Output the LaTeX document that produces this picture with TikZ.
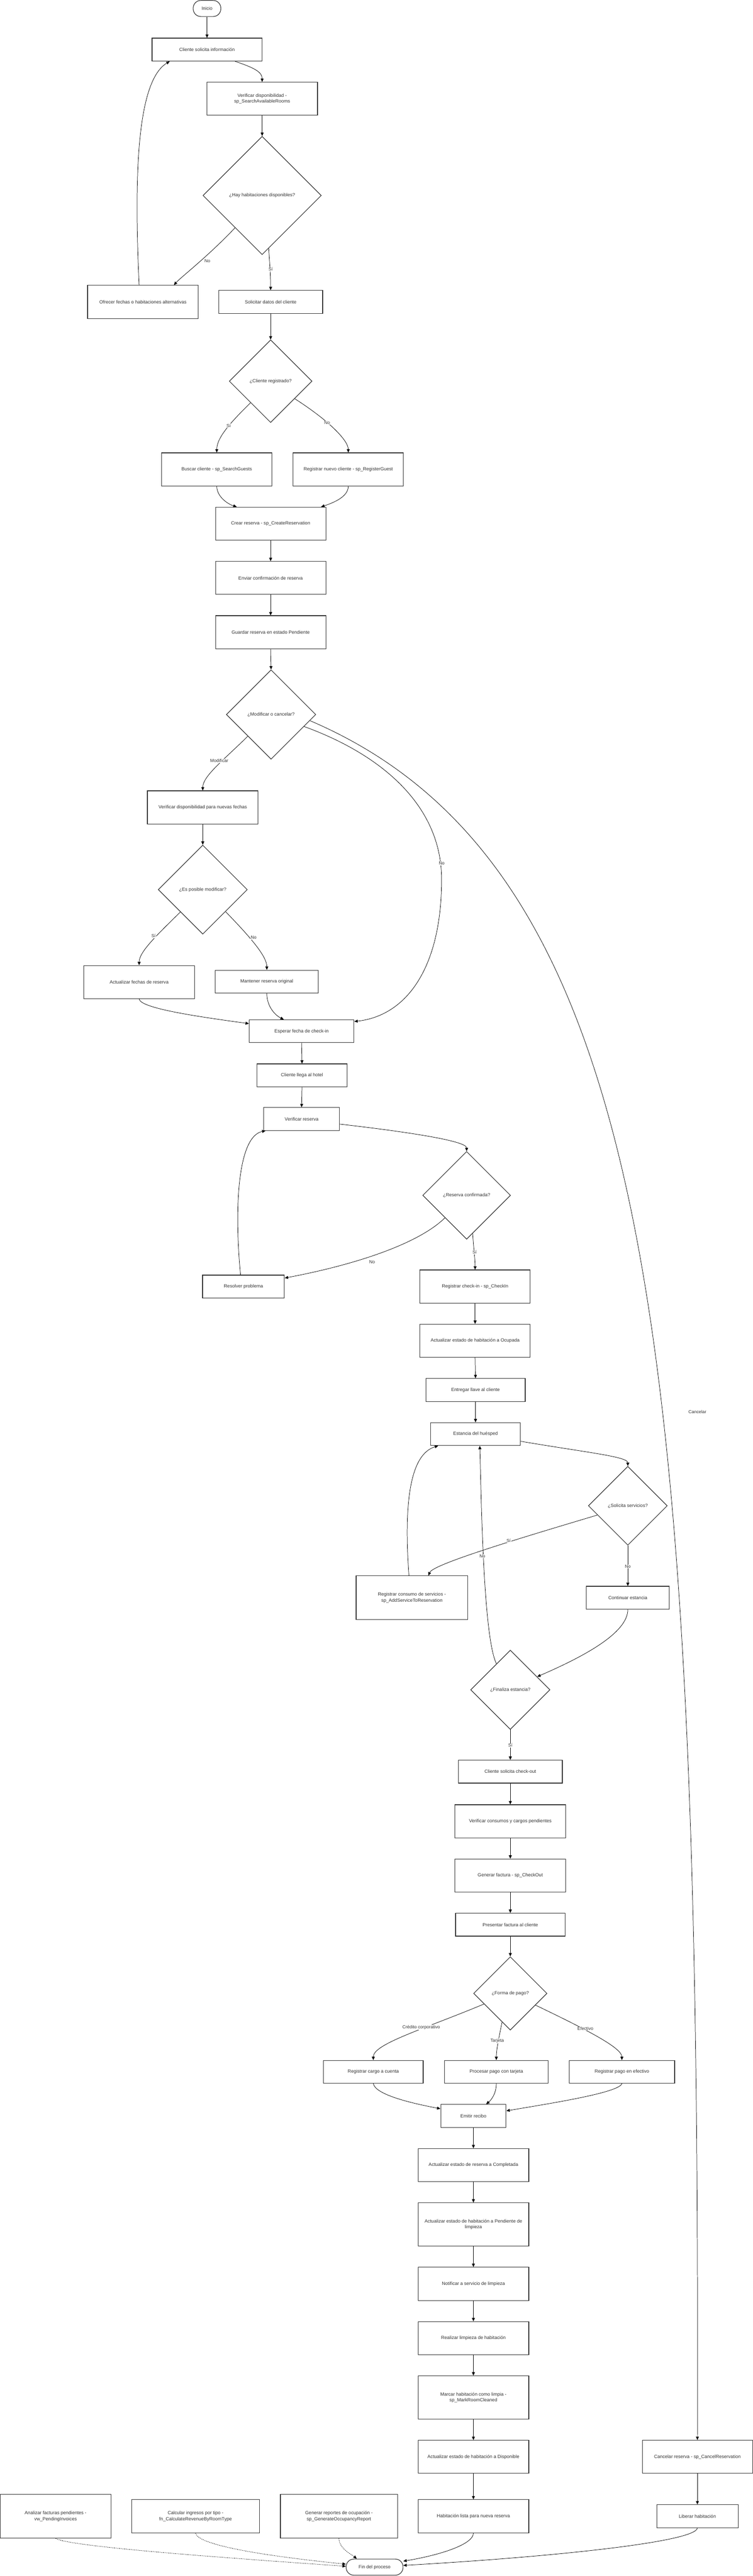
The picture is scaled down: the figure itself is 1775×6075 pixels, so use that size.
\documentclass[tikz,border=0pt]{standalone}
\usepackage{fontspec}
\setmainfont{Liberation Sans}
\usetikzlibrary{shapes.geometric,arrows.meta}
\definecolor{txt}{HTML}{333333}
\definecolor{brd}{HTML}{333333}
\begin{document}
\begin{tikzpicture}[x=1pt,y=-1pt,
  box/.style 2 args={draw=brd, line width=1.4pt, fill=white, rectangle, minimum width=#1, minimum height=#2, inner sep=0pt, align=center, text=txt, font=\fontsize{11}{14}\selectfont},
  term/.style 2 args={draw=brd, line width=1.4pt, fill=white, rectangle, rounded corners=18pt, minimum width=#1, minimum height=#2, inner sep=0pt, align=center, text=txt, font=\fontsize{11}{14}\selectfont},
  dec/.style={draw=brd, line width=1.4pt, fill=white, diamond, shape aspect=1, minimum width=#1, minimum height=#1, inner sep=0pt, align=center, text=txt, font=\fontsize{11}{14}\selectfont},
  conn/.style={draw=black, line width=0.9pt, -{Triangle[length=8pt,width=7pt]}},
  dotconn/.style={conn, dash pattern=on 2pt off 2pt},
  lbl/.style={fill=white, inner sep=1pt, text=txt, font=\fontsize{10.5}{12}\selectfont}
]
\useasboundingbox (0,0) rectangle (1775,6075);

% ---------- nodes ----------
\node[term={65pt}{38pt}] (inicio) at (488,20) {Inicio};
\node[box={259pt}{54pt}] (c1) at (488,117) {Cliente solicita información};
\node[box={261pt}{78pt}] (c2) at (618,233) {Verificar disponibilidad -\\sp\_SearchAvailableRooms};
\node[dec=279pt] (d1) at (618,461) {¿Hay habitaciones disponibles?};
\node[box={261pt}{78pt}] (c3) at (337,712) {Ofrecer fechas o habitaciones alternativas};
\node[box={245pt}{54pt}] (c4) at (638,712) {Solicitar datos del cliente};
\node[dec=195pt] (d2) at (638,899) {¿Cliente registrado?};
\node[box={260pt}{78pt}] (c5) at (511,1107) {Buscar cliente - sp\_SearchGuests};
\node[box={260pt}{78pt}] (c6) at (821,1107) {Registrar nuevo cliente - sp\_RegisterGuest};
\node[box={260pt}{78pt}] (c7) at (638,1235) {Crear reserva - sp\_CreateReservation};
\node[box={260pt}{78pt}] (c8) at (638,1363) {Enviar confirmación de reserva};
\node[box={260pt}{78pt}] (c9) at (638,1491) {Guardar reserva en estado Pendiente};
\node[dec=211pt] (d3) at (639,1685) {¿Modificar o cancelar?};
\node[box={261pt}{78pt}] (c10) at (478,1904) {Verificar disponibilidad para nuevas fechas};
\node[dec=210pt] (d4) at (478,2098) {¿Es posible modificar?};
\node[box={261pt}{78pt}] (c11) at (328,2316) {Actualizar fechas de reserva};
\node[box={243pt}{54pt}] (c12) at (629,2315) {Mantener reserva original};
\node[box={247pt}{54pt}] (c13) at (711,2432) {Esperar fecha de check-in};
\node[box={212pt}{54pt}] (c14) at (712,2536) {Cliente llega al hotel};
\node[box={179pt}{54pt}] (c15) at (711,2639) {Verificar reserva};
\node[dec=207pt] (d5) at (1100,2819) {¿Reserva confirmada?};
\node[box={193pt}{54pt}] (c16) at (574,3034) {Resolver problema};
\node[box={260pt}{78pt}] (c17) at (1120,3034) {Registrar check-in - sp\_CheckIn};
\node[box={260pt}{78pt}] (c18) at (1120,3162) {Actualizar estado de habitación a Ocupada};
\node[box={234pt}{54pt}] (c19) at (1121,3278) {Entregar llave al cliente};
\node[box={212pt}{54pt}] (c20) at (1121,3382) {Estancia del huésped};
\node[dec=186pt] (d6) at (1480,3551) {¿Solicita servicios?};
\node[box={263pt}{103pt}] (c21) at (971,3768) {Registrar consumo de servicios -\\sp\_AddServiceToReservation};
\node[box={195pt}{54pt}] (c22) at (1480,3768) {Continuar estancia};
\node[dec=187pt] (d7) at (1203,3985) {¿Finaliza estancia?};
\node[box={245pt}{54pt}] (c23) at (1203,4178) {Cliente solicita check-out};
\node[box={261pt}{78pt}] (c24) at (1203,4295) {Verificar consumos y cargos pendientes};
\node[box={261pt}{78pt}] (c25) at (1203,4423) {Generar factura - sp\_CheckOut};
\node[box={258pt}{54pt}] (c26) at (1203,4539) {Presentar factura al cliente};
\node[dec=173pt] (d8) at (1203,4701) {¿Forma de pago?};
\node[box={235pt}{54pt}] (c27) at (880,4886) {Registrar cargo a cuenta};
\node[box={245pt}{54pt}] (c28) at (1170,4886) {Procesar pago con tarjeta};
\node[box={249pt}{54pt}] (c29) at (1466,4886) {Registrar pago en efectivo};
\node[box={154pt}{54pt}] (c30) at (1116,4990) {Emitir recibo};
\node[box={261pt}{78pt}] (c31) at (1116,5106) {Actualizar estado de reserva a Completada};
\node[box={261pt}{102pt}] (c32) at (1116,5246) {Actualizar estado de habitación a Pendiente de\\limpieza};
\node[box={261pt}{78pt}] (c33) at (1116,5386) {Notificar a servicio de limpieza};
\node[box={261pt}{78pt}] (c34) at (1116,5514) {Realizar limpieza de habitación};
\node[box={261pt}{102pt}] (c35) at (1116,5654) {Marcar habitación como limpia -\\sp\_MarkRoomCleaned};
\node[box={261pt}{78pt}] (c36) at (1116,5794) {Actualizar estado de habitación a Disponible};
\node[box={261pt}{78pt}] (c37) at (1116,5934) {Habitación lista para nueva reserva};
\node[term={134pt}{38pt}] (fin) at (883,6054) {Fin del proceso};
\node[box={260pt}{78pt}] (c38) at (1644,5794) {Cancelar reserva - sp\_CancelReservation};
\node[box={192pt}{54pt}] (c39) at (1644,5934) {Liberar habitación};
\node[box={262pt}{103pt}] (c40) at (131,5934) {Analizar facturas pendientes -\\vw\_PendingInvoices};
\node[box={301pt}{78pt}] (c41) at (461,5934) {Calcular ingresos por tipo -\\fn\_CalculateRevenueByRoomType};
\node[box={276pt}{103pt}] (c42) at (799,5934) {Generar reportes de ocupación -\\sp\_GenerateOccupancyReport};

% ---------- connectors ----------
\draw[conn] (inicio.south) -- (c1.north);
\draw[conn] ([xshift=66pt]c1.south) .. controls (600,160) and (618,170) .. (c2.north);
\draw[conn] (c2.south) -- (d1.north);
\draw[conn] (d1.-130) .. controls (490,605) and (425,655) .. ([xshift=73pt]c3.north);
\draw[conn] (d1.-83) .. controls (636,625) and (638,650) .. (c4.north);
\draw[conn] ([xshift=-9pt]c3.north) .. controls (315,400) and (325,190) .. ([xshift=-88pt]c1.south);
\draw[conn] (c4.south) -- (d2.north);
\draw[conn] (d2.-133) .. controls (550,990) and (511,1030) .. (c5.north);
\draw[conn] (d2.-36) .. controls (780,995) and (821,1040) .. (c6.north);
\draw[conn] (c5.south) .. controls (511,1170) and (535,1188) .. ([xshift=-80pt]c7.north);
\draw[conn] (c6.south) .. controls (821,1172) and (785,1186) .. ([xshift=119pt]c7.north);
\draw[conn] (c7.south) -- (c8.north);
\draw[conn] (c8.south) -- (c9.north);
\draw[conn] (c9.south) -- (d3.north);
\draw[conn] (d3.-137) .. controls (530,1790) and (478,1830) .. (c10.north);
\draw[conn] (d3.-20) .. controls (900,1780) and (1041,1900) .. (1041,2074) .. controls (1041,2280) and (960,2395) .. ([yshift=23pt]c13.east);
\draw[conn] (d3.-9) .. controls (1550,2050) and (1650,3200) .. (c38.north);
\draw[conn] (c10.south) -- (d4.north);
\draw[conn] (d4.-135) .. controls (370,2205) and (328,2245) .. (c11.north);
\draw[conn] (d4.-44) .. controls (590,2210) and (629,2255) .. (c12.north);
\draw[conn] (c11.south) .. controls (330,2378) and (470,2398) .. ([yshift=18pt]c13.west);
\draw[conn] (c12.south) .. controls (629,2375) and (650,2395) .. ([xshift=-42pt]c13.north);
\draw[conn] (c13.south) -- (c14.north);
\draw[conn] (c14.south) -- (c15.north);
\draw[conn] ([yshift=-12pt]c15.east) .. controls (950,2668) and (1100,2690) .. (d5.north);
\draw[conn] (d5.-134) .. controls (990,2930) and (850,2980) .. ([yshift=20pt]c16.east);
\draw[conn] (d5.-81) .. controls (1117,2950) and (1120,2970) .. (c17.north);
\draw[conn] ([xshift=-7pt]c16.north) .. controls (552,2850) and (560,2680) .. ([xshift=-85pt]c15.south);
\draw[conn] (c17.south) -- (c18.north);
\draw[conn] (c18.south) -- (c19.north);
\draw[conn] (c19.south) -- (c20.north);
\draw[conn] ([yshift=-17pt]c20.east) .. controls (1380,3425) and (1480,3435) .. (d6.north);
\draw[conn] (d6.-163) .. controls (1200,3635) and (1020,3690) .. ([xshift=39pt]c21.north);
\draw[conn] (d6.south) -- (c22.north);
\draw[conn] ([xshift=-7pt]c21.north) .. controls (952,3550) and (965,3430) .. ([xshift=-88pt]c20.south);
\draw[conn] (c22.south) .. controls (1480,3850) and (1380,3905) .. (d7.26);
\draw[conn] (d7.118) .. controls (1138,3860) and (1134,3500) .. ([xshift=10pt]c20.south);
\draw[conn] (d7.south) -- (c23.north);
\draw[conn] (c23.south) -- (c24.north);
\draw[conn] (c24.south) -- (c25.north);
\draw[conn] (c25.south) -- (c26.north);
\draw[conn] (c26.south) -- (d8.north);
\draw[conn] (d8.-158) .. controls (1000,4785) and (880,4820) .. (c27.north);
\draw[conn] (d8.-106) .. controls (1175,4810) and (1170,4835) .. (c28.north);
\draw[conn] (d8.-25) .. controls (1390,4790) and (1466,4830) .. (c29.north);
\draw[conn] (c27.south) .. controls (885,4940) and (970,4960) .. ([yshift=17pt]c30.west);
\draw[conn] (c28.south) .. controls (1170,4940) and (1155,4955) .. ([xshift=30pt]c30.north);
\draw[conn] (c29.south) .. controls (1460,4935) and (1300,4960) .. ([yshift=12pt]c30.east);
\draw[conn] (c30.south) -- (c31.north);
\draw[conn] (c31.south) -- (c32.north);
\draw[conn] (c32.south) -- (c33.north);
\draw[conn] (c33.south) -- (c34.north);
\draw[conn] (c34.south) -- (c35.north);
\draw[conn] (c35.south) -- (c36.north);
\draw[conn] (c36.south) -- (c37.north);
\draw[conn] (c37.south) .. controls (1116,6000) and (1040,6025) .. ([yshift=14pt]fin.east);
\draw[conn] (c38.south) -- (c39.north);
\draw[conn] (c39.south) .. controls (1640,5995) and (1300,6030) .. ([yshift=4pt]fin.east);
\draw[dotconn] (c40.south) .. controls (160,6005) and (500,6030) .. ([yshift=2pt]fin.west);
\draw[dotconn] (c41.south) .. controls (465,6000) and (600,6025) .. ([yshift=7pt]fin.west);
\draw[dotconn] (c42.south) .. controls (799,6010) and (830,6025) .. ([xshift=-42pt]fin.north);

% ---------- connector labels ----------
\node[lbl] (l1) at (489,615) {No};
\node[lbl] (l2) at (638,635) {Sí};
\node[lbl] (l3) at (539,1004) {Sí};
\node[lbl] (l4) at (771,997) {No};
\node[lbl] (l5) at (517,1794) {Modificar};
\node[lbl] (l6) at (1041,2036) {No};
\node[lbl] (l7) at (362,2207) {Sí};
\node[lbl] (l8) at (598,2211) {No};
\node[lbl] (l9) at (877,2976) {No};
\node[lbl] (l10) at (1119,2953) {Sí};
\node[lbl] (l11) at (1199,3633) {Sí};
\node[lbl] (l12) at (1480,3694) {No};
\node[lbl] (l13) at (1137,3670) {No};
\node[lbl] (l14) at (1203,4116) {Sí};
\node[lbl] (l15) at (993,4781) {Crédito corporativo};
\node[lbl] (l16) at (1172,4813) {Tarjeta};
\node[lbl] (l17) at (1380,4784) {Efectivo};
\node[lbl] (l18) at (1644,3330) {Cancelar};
\end{tikzpicture}
\end{document}
